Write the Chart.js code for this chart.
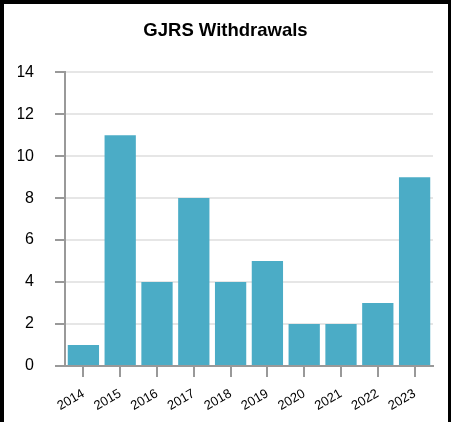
<!DOCTYPE html>
<html>
<head>
<meta charset="utf-8">
<script src="https://cdn.jsdelivr.net/npm/chart.js@4/dist/chart.umd.min.js"></script>
<style>
  html, body { margin: 0; padding: 0; background: #fff; }
  #frame { position: absolute; left: 0; top: 0; width: 444px; height: 418px; border-left: 4px solid #000; border-top: 4px solid #000; border-right: 3px solid #000; border-bottom: 4px solid #000; }
  #chart { display: block; }
</style>
</head>
<body>
<div id="frame"><canvas id="chart" width="444" height="418"></canvas></div>
<script>
const years = ['2014', '2015', '2016', '2017', '2018', '2019', '2020', '2021', '2022', '2023'];
const withdrawals = [1, 11, 4, 8, 4, 5, 2, 2, 3, 9];
const yTicks = [0, 2, 4, 6, 8, 10, 12, 14];

const font = 'Liberation Sans, Arial, sans-serif';

new Chart(document.getElementById('chart'), {
  type: 'bar',
  data: {
    labels: years,
    datasets: [{
      label: 'Withdrawals',
      data: withdrawals,
      backgroundColor: '#4bacc6',
      barPercentage: 0.85,
      categoryPercentage: 1
    }]
  },
  options: {
    responsive: false,
    animation: false,
    layout: { padding: { left: 14, right: 15, top: 0, bottom: 11 } },
    plugins: {
      legend: { display: false },
      tooltip: { enabled: false },
      title: {
        display: true,
        text: 'GJRS Withdrawals',
        color: '#000',
        font: { family: font, size: 18.5, weight: 'bold' },
        padding: { top: 16, bottom: 30 }
      }
    },
    scales: {
      x: {
        offset: true,
        afterFit: axis => { axis.height = 45; },
        grid: { display: true, offset: false, drawOnChartArea: false, drawTicks: true, tickLength: 11, color: '#999', lineWidth: 2 },
        border: { display: true, color: '#999', width: 2 },
        ticks: { color: '#000', font: { family: font, size: 13 }, autoSkip: false, maxRotation: 30, minRotation: 30, padding: 9 }
      },
      y: {
        min: 0,
        max: 14,
        afterFit: axis => { axis.width = 47; },
        afterBuildTicks: axis => { axis.ticks = yTicks.map(v => ({ value: v })); },
        grid: { color: '#e6e6e6', lineWidth: 2, tickLength: 10, tickColor: '#999', tickWidth: 2 },
        border: { display: true, color: '#999', width: 2 },
        ticks: { color: '#000', font: { family: font, size: 16 }, padding: 21 }
      }
    }
  }
});
</script>
</body>
</html>
